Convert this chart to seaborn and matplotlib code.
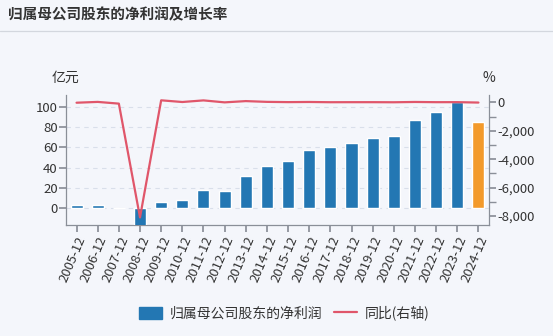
import numpy as np
import pandas as pd
import matplotlib
matplotlib.use("Agg")
import matplotlib.pyplot as plt
from matplotlib.patches import Patch
from matplotlib.lines import Line2D
from matplotlib.ticker import FuncFormatter, MultipleLocator
import seaborn as sns

# 归属母公司股东的净利润（亿元）及同比增长率（%）
periods = ["2005-12", "2006-12", "2007-12", "2008-12", "2009-12", "2010-12",
           "2011-12", "2012-12", "2013-12", "2014-12", "2015-12", "2016-12",
           "2017-12", "2018-12", "2019-12", "2020-12", "2021-12", "2022-12",
           "2023-12", "2024-12"]
net_profit = [2.8, 3.3, 0.2, -17.0, 6.6, 7.9, 18.4, 17.4, 32.0, 41.6, 46.6,
              57.0, 60.0, 64.6, 69.5, 70.8, 87.2, 94.4, 104.3, 84.9]
yoy_pct = [-30, 27, -94, -8100, 139, 20, 133, -5, 84, 30, 12, 22, 5, 8, 8,
           2, 23, 8, 10, -19]

bar_blue = "#2377b3"
bar_orange = "#f39a2b"
line_red = "#e0566a"
bg = "#f4f6fb"
text_c = "#333333"

sns.set_theme(style="white")
plt.rcParams["font.family"] = ["Noto Sans CJK SC", "DejaVu Sans"]
plt.rcParams["axes.unicode_minus"] = False

fig = plt.figure(figsize=(5.53, 3.36), dpi=100, facecolor=bg)
ax = fig.add_axes([0.1193, 0.3304, 0.7650, 0.3869])
ax.set_facecolor(bg)

df = pd.DataFrame({"period": periods, "profit": net_profit})
colors = [bar_blue] * (len(periods) - 1) + [bar_orange]
sns.barplot(data=df, x="period", y="profit", hue="period", palette=colors,
            legend=False, width=0.57, ax=ax, saturation=1, zorder=3)

ax.set_ylim(-16.4, 111.5)
ax.set_xlim(-0.5, len(periods) - 0.5)
ax.set_yticks([0, 20, 40, 60, 80, 100])
ax.yaxis.grid(True, linestyle=(0, (4, 4)), color="#d9dfea", linewidth=0.8,
              zorder=0)
ax.set_xlabel("")
ax.set_ylabel("")

ax2 = ax.twinx()
sns.lineplot(x=np.arange(len(periods)), y=yoy_pct, ax=ax2, color=line_red,
             linewidth=1.6, zorder=4)
ax2.set_ylim(-8633, 514)
ax2.yaxis.set_major_locator(MultipleLocator(2000))
ax2.yaxis.set_minor_locator(MultipleLocator(1000))
ax2.yaxis.set_major_formatter(FuncFormatter(lambda v, p: f"{int(v):,}"))
ax2.set_ylabel("")

spine_c = "#8a8f98"
for a in (ax, ax2):
    a.spines["top"].set_visible(False)
    for s in ("left", "right", "bottom"):
        a.spines[s].set_color(spine_c)
        a.spines[s].set_linewidth(0.9)
ax.spines["right"].set_visible(False)
ax2.spines["left"].set_visible(False)
ax2.spines["bottom"].set_visible(False)

fs = 9.5
ax.tick_params(axis="y", which="major", direction="out", length=5,
               color=spine_c, labelsize=fs, labelcolor=text_c, pad=1,
               left=True)
ax.tick_params(axis="x", direction="out", length=5, color=spine_c,
               labelsize=fs, labelcolor=text_c, pad=2, bottom=True)
ax2.tick_params(axis="y", which="both", direction="out", length=5,
                color=spine_c, labelsize=fs, labelcolor=text_c, pad=1,
                right=True)
ax.set_xticks(range(len(periods)))
ax.set_xticklabels(periods, rotation=67, ha="right", rotation_mode="anchor")

ax.text(0, 1.13, "亿元", transform=ax.transAxes, ha="center", va="center",
        fontsize=10, color=text_c)
ax2.text(1, 1.13, "%", transform=ax2.transAxes, ha="center", va="center",
         fontsize=10, color=text_c)

fig.text(0.014, 0.957, "归属母公司股东的净利润及增长率", ha="left",
         va="center", fontsize=10.5, fontweight="bold", color=text_c)
fig.add_artist(Line2D([0, 1], [0.908, 0.908], transform=fig.transFigure,
                      color="#d3d7de", linewidth=0.9))

handles = [Patch(facecolor=bar_blue, edgecolor=bar_blue),
           Line2D([0], [0], color=line_red, linewidth=1.6)]
fig.legend(handles, ["归属母公司股东的净利润", "同比(右轴)"],
           loc="center", bbox_to_anchor=(0.514, 0.068), ncol=2,
           frameon=False, fontsize=10, handlelength=1.65, handleheight=0.9,
           columnspacing=0.9, handletextpad=0.5, labelcolor=text_c)

fig.savefig("out.png", dpi=100, facecolor=bg)
